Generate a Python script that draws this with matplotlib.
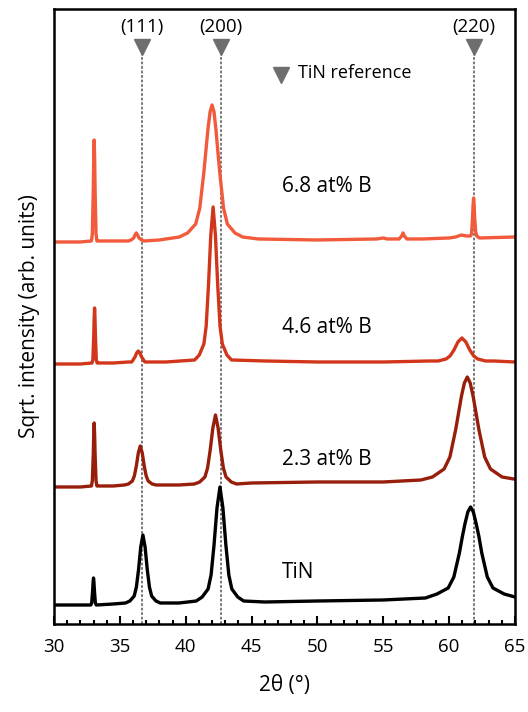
import matplotlib.pyplot as plt
from matplotlib.ticker import MultipleLocator

plt.rcParams['font.family'] = ['Open Sans', 'DejaVu Sans']

# data (2theta in degrees, sqrt intensity in arb. units, already offset)
tin_x = [30, 32.0, 32.79, 32.86, 32.93, 32.965, 33.0, 33.035, 33.07, 33.14, 33.21, 34.5,
         35.43, 35.76, 36.09, 36.255, 36.42, 36.585, 36.75, 36.915, 37.08, 37.245, 37.41, 37.74, 38.07,
         39.5, 40.8, 41.25, 41.7, 41.925, 42.15, 42.375, 42.6, 42.825, 43.05, 43.275, 43.5, 43.95, 44.4,
         46, 50, 55, 58.2, 59.08, 59.93, 60.36, 60.78, 61.0, 61.2, 61.42, 61.63, 61.84, 62.06, 62.27,
         62.48, 62.9, 63.33, 64.18, 65]
tin_y = [0.19, 0.19, 0.19, 0.21, 0.33, 0.41, 0.46, 0.41, 0.33, 0.21, 0.19, 0.20,
         0.21, 0.23, 0.28, 0.37, 0.545, 0.77, 0.89, 0.77, 0.545, 0.37, 0.28, 0.23, 0.21,
         0.21, 0.23, 0.27, 0.35, 0.49, 0.79, 1.16, 1.37, 1.16, 0.79, 0.49, 0.35, 0.27, 0.23,
         0.22, 0.23, 0.24, 0.26, 0.30, 0.36, 0.47, 0.71, 0.87, 1.00, 1.12, 1.17, 1.12, 1.00, 0.87,
         0.71, 0.47, 0.36, 0.30, 0.27]

b23_x = [30, 32.0, 32.84, 32.91, 32.98, 33.015, 33.05, 33.085, 33.12, 33.19, 33.26, 33.4, 34.5,
         35.35, 35.65, 35.95, 36.1, 36.25, 36.4, 36.55, 36.7, 36.85, 37.0, 37.15, 37.45, 37.75,
         39.5, 40.66, 41.06, 41.46, 41.66, 41.86, 42.06, 42.26, 42.46, 42.66, 42.86, 43.06, 43.46, 43.86,
         45, 50, 55, 57.86, 58.74, 59.62, 60.06, 60.5, 60.94, 61.16, 61.38, 61.6, 61.82, 62.26, 62.7,
         63.14, 64.02, 64.9, 65]
b23_y = [1.37, 1.37, 1.38, 1.43, 1.69, 1.89, 2.01, 1.89, 1.69, 1.43, 1.38, 1.38, 1.38,
         1.39, 1.40, 1.43, 1.48, 1.58, 1.71, 1.78, 1.71, 1.58, 1.48, 1.43, 1.40, 1.39,
         1.39, 1.40, 1.42, 1.47, 1.56, 1.74, 1.96, 2.09, 1.96, 1.74, 1.56, 1.47, 1.42, 1.40,
         1.41, 1.42, 1.42, 1.44, 1.47, 1.55, 1.67, 1.945, 2.28, 2.41, 2.47, 2.41, 2.28, 1.945, 1.67,
         1.55, 1.47, 1.45, 1.45]

b46_x = [30, 32.0, 32.885, 32.95, 33.015, 33.05, 33.08, 33.11, 33.145, 33.21, 33.275, 33.4, 34.5,
         35.65, 35.9, 36.15, 36.275, 36.4, 36.525, 36.65, 36.9, 37.15, 38.5,
         40.68, 41.03, 41.38, 41.555, 41.73, 41.905, 42.08, 42.255, 42.43, 42.605, 42.78, 43.13, 43.48,
         46, 50, 55, 58.57, 59.17, 59.77, 60.07, 60.37, 60.67, 60.97, 61.27, 61.57, 61.87, 62.17, 62.77,
         63.37, 65]
b46_y = [2.60, 2.60, 2.61, 2.64, 2.88, 3.06, 3.16, 3.06, 2.88, 2.64, 2.61, 2.61, 2.61,
         2.62, 2.62, 2.67, 2.71, 2.73, 2.71, 2.67, 2.62, 2.62, 2.62,
         2.64, 2.69, 2.80, 2.98, 3.39, 3.89, 4.17, 3.89, 3.39, 2.98, 2.80, 2.69, 2.64,
         2.63, 2.62, 2.62, 2.63, 2.63, 2.65, 2.68, 2.74, 2.82, 2.86, 2.82, 2.74, 2.68, 2.65, 2.63,
         2.63, 2.62]

b68_x = [30, 32.0, 32.84, 32.91, 32.98, 33.015, 33.05, 33.085, 33.12, 33.19, 33.26, 33.4, 34.5,
         35.65, 35.85, 36.05, 36.15, 36.25, 36.35, 36.45, 36.65, 36.85, 38,
         39.52, 40.14, 40.76, 41.07, 41.38, 41.69, 41.85, 42.0, 42.15, 42.29, 42.58, 42.87, 43.16,
         43.74, 44.32, 45.5, 50, 54.5, 55.0, 55.3, 56.2, 56.4, 56.5, 56.6, 56.8, 58, 60.0, 60.5,
         60.92, 61.3, 61.62, 61.7, 61.78, 61.82, 61.86, 61.9, 61.94, 62.02, 62.1, 62.3, 65]
b68_y = [3.82, 3.82, 3.83, 3.90, 4.33, 4.66, 4.84, 4.66, 4.33, 3.90, 3.83, 3.83, 3.83,
         3.83, 3.84, 3.86, 3.89, 3.91, 3.89, 3.86, 3.84, 3.83, 3.84,
         3.87, 3.91, 4.00, 4.16, 4.52, 4.95, 5.12, 5.19, 5.12, 4.95, 4.52, 4.16, 4.00,
         3.91, 3.87, 3.85, 3.84, 3.85, 3.86, 3.85, 3.85, 3.88, 3.91, 3.88, 3.85, 3.85, 3.86, 3.87,
         3.89, 3.88, 3.88, 3.90, 4.06, 4.19, 4.26, 4.19, 4.06, 3.92, 3.88, 3.86, 3.87]

ref_pos = [36.7, 42.7, 61.9]
ref_labels = ['(111)', '(200)', '(220)']

fig = plt.figure(figsize=(5.28, 7.12), dpi=100)
ax = fig.add_axes([0.1023, 0.1236, 0.873, 0.8638])

# reference lines
for p, lab in zip(ref_pos, ref_labels):
    ax.plot([p, p], [0, 5.77], color='#6e6e6e', lw=1.3, ls=(0, (1.5, 1)), zorder=1)
    ax.plot(p, 5.77, marker='v', color='#6e6e6e', markersize=11, zorder=3)
    ax.text(p, 5.97, lab, ha='center', va='center', fontsize=13.5)

style = dict(lw=2.4, zorder=2, solid_joinstyle='round', solid_capstyle='round')
ax.plot(tin_x, tin_y, color='black', **style)
ax.plot(b23_x, b23_y, color='#961e0a', **style)
ax.plot(b46_x, b46_y, color='#d2361a', **style)
ax.plot(b68_x, b68_y, color='#f25a3c', **style)

ax.plot(47.2, 5.49, marker='v', color='#6e6e6e', markersize=11)
ax.text(48.5, 5.51, 'TiN reference', ha='left', va='center', fontsize=13)

ax.text(47.3, 4.37, '6.8 at% B', ha='left', va='center', fontsize=15)
ax.text(47.3, 2.96, '4.6 at% B', ha='left', va='center', fontsize=15)
ax.text(47.3, 1.64, '2.3 at% B', ha='left', va='center', fontsize=15)
ax.text(47.3, 0.51, 'TiN', ha='left', va='center', fontsize=15)

ax.set_xlim(30, 65)
ax.set_ylim(0, 6.15)
ax.xaxis.set_major_locator(MultipleLocator(5))
ax.xaxis.set_minor_locator(MultipleLocator(1))
ax.tick_params(axis='x', which='major', direction='in', length=6, width=1.5, labelsize=13.5, pad=10)
ax.tick_params(axis='x', which='minor', direction='in', length=3, width=1.5)
ax.set_yticks([])
for s in ax.spines.values():
    s.set_linewidth(1.8)

ax.set_xlabel('2θ (°)', fontsize=15, labelpad=14)
ax.set_ylabel('Sqrt. intensity (arb. units)', fontsize=15, labelpad=10)

fig.savefig('out.png', dpi=100)
